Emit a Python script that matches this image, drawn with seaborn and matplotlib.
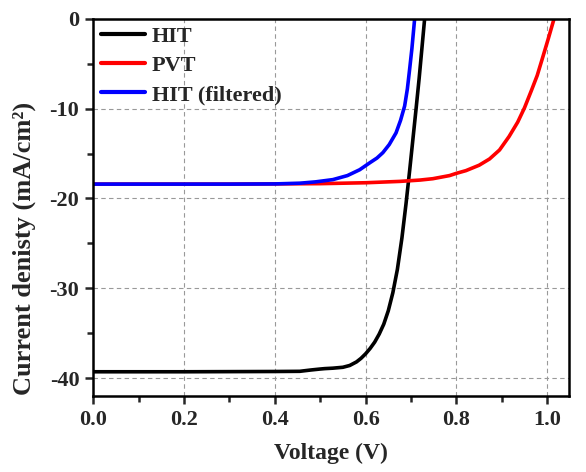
import numpy as np
import pandas as pd
import matplotlib
matplotlib.use("Agg")
import matplotlib.pyplot as plt
from matplotlib.ticker import MultipleLocator
import seaborn as sns

# J-V curves (V in volts, J in mA/cm2)
hit_v = [0.0, 0.2, 0.4, 0.455, 0.48, 0.499, 0.51, 0.528, 0.55, 0.565, 0.58, 0.59, 0.60,
         0.61, 0.62, 0.63, 0.64, 0.65, 0.66, 0.67, 0.68, 0.689,
         0.697, 0.704, 0.711, 0.718, 0.724, 0.730]
hit_j = [-39.3, -39.3, -39.27, -39.25, -39.1, -39.0, -38.95, -38.9, -38.8, -38.6, -38.2, -37.8, -37.3,
         -36.7, -36.0, -35.1, -34.0, -32.5, -30.5, -27.9, -24.4, -20.6,
         -16.9, -13.5, -10.1, -6.6, -3.3, 0.0]

pvt_v = [0.0, 0.3, 0.5, 0.6, 0.675, 0.72, 0.748, 0.785, 0.80, 0.821, 0.85, 0.873,
         0.895, 0.916, 0.935, 0.950, 0.965, 0.978, 0.990, 1.003, 1.015]
pvt_j = [-18.4, -18.4, -18.35, -18.25, -18.1, -17.95, -17.8, -17.45, -17.2, -16.9, -16.3, -15.6,
         -14.6, -13.1, -11.5, -9.9, -8.0, -6.3, -4.3, -2.1, 0.0]

filt_v = [0.0, 0.3, 0.4, 0.455, 0.49, 0.528, 0.56, 0.587, 0.61, 0.625, 0.638, 0.652,
          0.667, 0.677, 0.686, 0.692, 0.697, 0.702, 0.708]
filt_j = [-18.4, -18.4, -18.38, -18.3, -18.15, -17.9, -17.45, -16.8, -16.0, -15.5, -14.9, -14.0,
          -12.7, -11.3, -9.7, -7.8, -5.6, -3.3, 0.0]

x_ticks = [0.0, 0.2, 0.4, 0.6, 0.8, 1.0]
y_ticks = [0, -10, -20, -30, -40]

labels = ["HIT", "PVT", "HIT (filtered)"]
colors = ["#000000", "#ff0000", "#0000ff"]

df = pd.concat([
    pd.DataFrame({"V": hit_v, "J": hit_j, "cell": labels[0]}),
    pd.DataFrame({"V": pvt_v, "J": pvt_j, "cell": labels[1]}),
    pd.DataFrame({"V": filt_v, "J": filt_j, "cell": labels[2]}),
])

sns.set_style("ticks")
plt.rcParams["font.family"] = ["Liberation Serif", "DejaVu Serif"]
plt.rcParams["font.weight"] = "bold"
plt.rcParams["axes.unicode_minus"] = False

fig = plt.figure(figsize=(5.86, 4.72), dpi=100)
ax = fig.add_axes([0.159, 0.161, 0.812, 0.799])

sns.lineplot(data=df, x="V", y="J", hue="cell", hue_order=labels,
             palette=dict(zip(labels, colors)), sort=False, estimator=None,
             linewidth=2.6, ax=ax)

ax.set_xticks(x_ticks)
ax.set_xticklabels([f"{t:.1f}" for t in x_ticks])
ax.set_yticks(y_ticks)
ax.xaxis.set_minor_locator(MultipleLocator(0.1))
ax.yaxis.set_minor_locator(MultipleLocator(5))
ax.set_xlim(0, 1.048)
ax.set_ylim(-42, 0)
ax.grid(True, which="major", linestyle=(0, (4, 3)), color="#999999", linewidth=0.8)

for s in ax.spines.values():
    s.set_linewidth(1.8)
    s.set_color("black")
ax.tick_params(which="major", direction="out", length=6, width=1.8, labelsize=16, pad=4)
ax.tick_params(which="minor", direction="out", length=4, width=1.8)
for lab in ax.get_xticklabels() + ax.get_yticklabels():
    lab.set_fontweight("bold")

ax.set_xlabel("Voltage (V)", fontsize=17, fontweight="bold")
ax.xaxis.set_label_coords(0.5, -0.125)
ax.set_ylabel("Current denisty (mA/cm²)", fontsize=19, fontweight="bold")
ax.yaxis.set_label_coords(-0.12, 0.39)

leg = ax.legend(loc="upper left", frameon=False, fontsize=16, handlelength=2.0,
                handletextpad=0.3, labelspacing=0.38, borderaxespad=0.0, borderpad=0.35)
for t in leg.get_texts():
    t.set_fontweight("bold")
for h in leg.get_lines():
    h.set_linewidth(3.0)

fig.savefig("out.png", dpi=100)
